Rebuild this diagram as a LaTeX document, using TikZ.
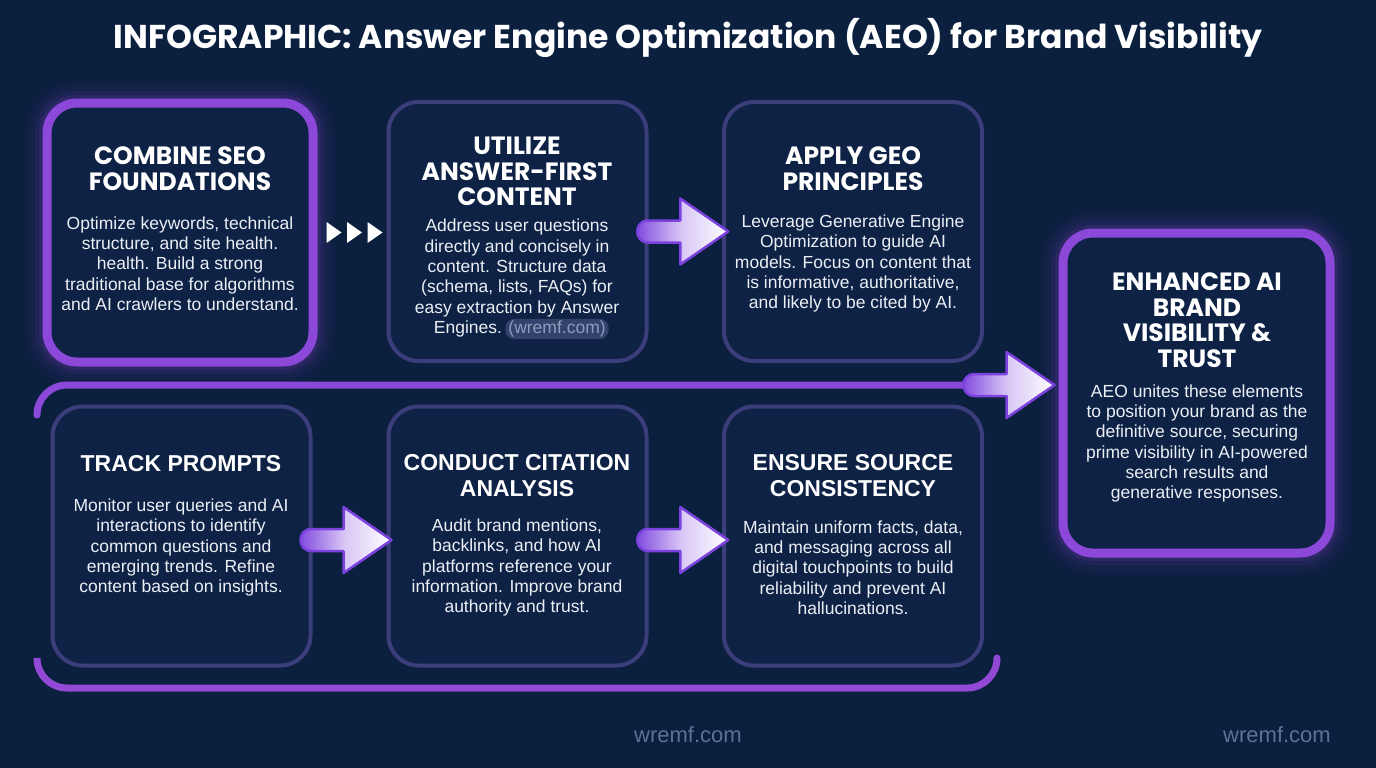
\documentclass[tikz,border=0pt]{standalone}
\usepackage{fontspec}
\setmainfont{Liberation Sans}
\newfontfamily\headfont{Poppins}
\usepackage{tikz}
\usetikzlibrary{calc,positioning}
\definecolor{bgc}{RGB}{11,31,63}
\definecolor{boxfill}{RGB}{13,34,69}
\definecolor{boxline}{RGB}{59,62,122}
\definecolor{hl}{RGB}{140,72,216}
\definecolor{railb}{RGB}{146,74,214}
\definecolor{arrl}{RGB}{124,66,222}
\definecolor{txt}{RGB}{236,239,245}
\definecolor{wmc}{RGB}{92,114,150}
\definecolor{pillbg}{RGB}{50,66,106}
\definecolor{pilltxt}{RGB}{142,156,186}

\begin{document}
\begin{tikzpicture}[x=1pt,y=-1pt,
  card/.style={draw=boxline,line width=4pt,fill=boxfill,rounded corners=30pt,
    minimum width=258pt,minimum height=259pt,inner sep=0pt},
  hicard/.style={card,draw=hl,line width=9pt,
    preaction={draw=hl,line width=44pt,opacity=0.04},
    preaction={draw=hl,line width=34pt,opacity=0.05},
    preaction={draw=hl,line width=24pt,opacity=0.08},
    preaction={draw=hl,line width=16pt,opacity=0.12}},
  title/.style={font=\headfont\bfseries\fontsize{33}{35}\selectfont,text=white,inner sep=0pt},
  head/.style={font=\headfont\bfseries\fontsize{25}{25.5}\selectfont,text=white,align=center,inner sep=0pt},
  headb/.style={font=\bfseries\fontsize{23}{25.5}\selectfont,text=white,align=center,inner sep=0pt},
  body/.style={font=\fontsize{17.5}{20.3}\selectfont,text=txt,align=center,inner sep=0pt},
  pill/.style={body,fill=pillbg,text=pilltxt,rounded corners=9pt,inner xsep=3pt,inner ysep=2pt},
  wmark/.style={font=\fontsize{22}{24}\selectfont,text=wmc,inner sep=0pt},
  rail/.style={draw=hl,line width=7pt,line cap=round,rounded corners=30pt},
  fatarrow/.pic={
    \path[draw=arrl,line width=2.5pt,line join=round,left color=arrl,right color=white,
      middle color=arrl!30!white]
      (-2,11) -- (-34,11) .. controls (-48.7,11) and (-48.7,-11) .. (-34,-11)
      -- (-2,-11) -- (-2,-33) -- (46,0) -- (-2,33) -- cycle;
  }]
  \useasboundingbox (0,0) rectangle (1376,768);
  \fill[bgc] (0,0) rectangle (1376,768);

  \node[title] (ttl) at (688,38) {INFOGRAPHIC: Answer Engine Optimization (AEO) for Brand Visibility};

  % cards
  \node[hicard,minimum width=266pt] (b1) at (180,232.5) {};
  \node[card] (b2) at (517.5,231.5) {};
  \node[card] (b3) at (853,231.5) {};
  \node[card] (b4) at (181.5,536) {};
  \node[card] (b5) at (517.5,536) {};
  \node[card] (b6) at (853,536) {};
  \node[hicard,minimum width=267pt,minimum height=320pt] (b7) at (1196.5,393) {};

  % rails round the lower row
  \coordinate (a4) at ($(b7.west)+(-50,-8)$);
  \coordinate (r1) at (37,415);
  \coordinate (r2) at (37,660);
  \coordinate (r3) at (997,658);
  \draw[rail] (r1) -- (r1 |- a4) -- ($(a4)+(-44,0)$);
  \draw[rail,draw=railb] (r2) -- ++(0,28) -- ($(r3)+(0,30)$) -- (r3);

  % arrows between cards
  \foreach \i in {0,1,2}
    \fill[white] ($(b1.east)+(9+\i*20.5,-10.5)$) -- ++(15,10.5) -- ++(-15,10.5) -- cycle;
  \coordinate (a1) at ($(b2.east)!.5!(b3.west)+(-3,0)$);
  \coordinate (a2) at ($(b4.east)!.5!(b5.west)+(-4,4)$);
  \coordinate (a3) at ($(b5.east)!.5!(b6.west)+(-3,4)$);
  \foreach \a in {a1,a2,a3,a4}
    \pic at (\a) {fatarrow};

  % texts
  \node[head] (h1) at (180,168.5) {COMBINE SEO\\FOUNDATIONS};
  \node[body] (t1) at (180,263.5) {Optimize keywords, technical\\structure, and site health.\\health. Build a strong\\traditional base for algorithms\\and AI crawlers to understand.};

  \node[head] (h2) at (517,171.5) {UTILIZE\\ANSWER-FIRST\\CONTENT};
  \node[body] (t2) at (517,268) {Address user questions\\directly and concisely in\\content. Structure data\\(schema, lists, FAQs) for\\easy extraction by Answer};
  \node[body] (t2e) at (468,329) {Engines.};
  \node[pill,right=3pt of t2e] (w2) {(wremf.com)};

  \node[head] (h3) at (853,168.5) {APPLY GEO\\PRINCIPLES};
  \node[body] (t3) at (853,263.5) {Leverage Generative Engine\\Optimization to guide AI\\models. Focus on content that\\is informative, authoritative,\\and likely to be cited by AI.};

  \node[head] (h7) at (1197,320) {ENHANCED AI\\BRAND\\VISIBILITY \&\\TRUST};
  \node[body] (t7) at (1197,443.5) {AEO unites these elements\\to position your brand as the\\definitive source, securing\\prime visibility in AI-powered\\search results and\\generative responses.};

  \node[headb] (h4) at (181,464) {TRACK PROMPTS};
  \node[body] (t4) at (181,547.5) {Monitor user queries and AI\\interactions to identify\\common questions and\\emerging trends. Refine\\content based on insights.};

  \node[headb] (h5) at (517,475.5) {CONDUCT CITATION\\ANALYSIS};
  \node[body] (t5) at (517,567.5) {Audit brand mentions,\\backlinks, and how AI\\platforms reference your\\information. Improve brand\\authority and trust.};

  \node[headb] (h6) at (853,475.5) {ENSURE SOURCE\\CONSISTENCY};
  \node[body] (t6) at (853,567.5) {Maintain uniform facts, data,\\and messaging across all\\digital touchpoints to build\\reliability and prevent AI\\hallucinations.};

  \node[wmark] (wm1) at (688,735) {wremf.com};
  \node[wmark] (wm2) at (1277,735) {wremf.com};
\end{tikzpicture}
\end{document}
